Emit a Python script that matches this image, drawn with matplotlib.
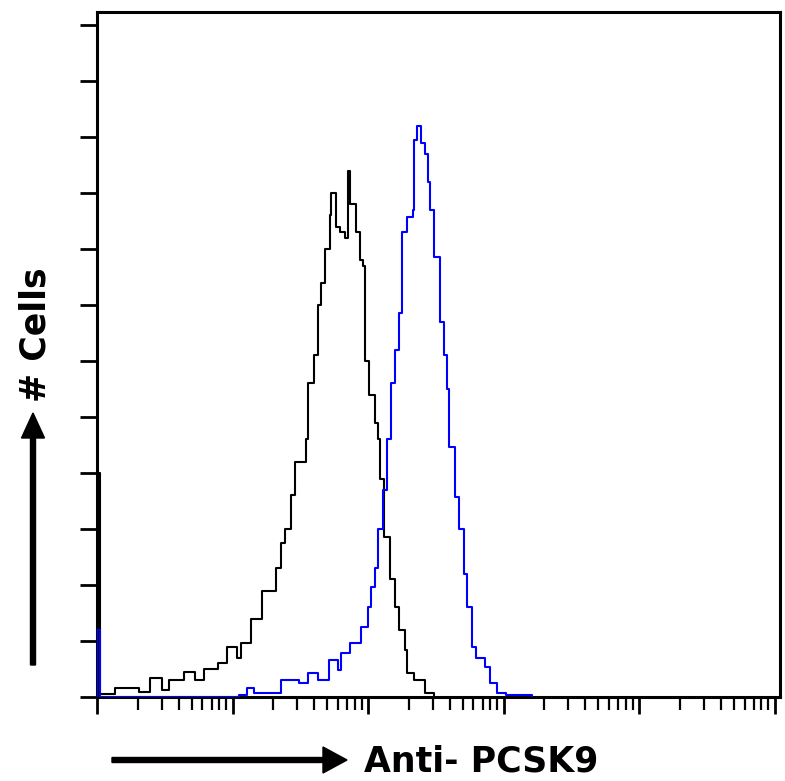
import matplotlib
matplotlib.use('Agg')
import matplotlib.pyplot as plt
from matplotlib.ticker import LogLocator, NullFormatter, MultipleLocator
import numpy as np

# log10 fluorescence (decades) and cell counts
iso_decade = [0.00, 0.00, 0.02, 0.13, 0.23, 0.31, 0.39, 0.48, 0.53, 0.62, 0.64,
              0.72, 0.79, 0.89, 0.96, 1.03, 1.06, 1.14, 1.22, 1.32, 1.36, 1.39,
              1.43, 1.46, 1.54, 1.56, 1.60, 1.63, 1.65, 1.68, 1.72, 1.73, 1.76,
              1.79, 1.83, 1.85, 1.87, 1.91, 1.94, 1.96, 1.98, 2.01, 2.05, 2.07,
              2.09, 2.12, 2.16, 2.20, 2.23, 2.27, 2.29, 2.34, 2.42, 2.49]
iso_count = [0, 40, 0.5, 1.6, 1.6, 0.9, 3.4, 1.2, 3.0, 3.0, 4.5,
             3.0, 5.0, 6.0, 9.0, 7.0, 9.6, 14, 19, 23, 27.5, 30,
             36, 42, 46, 56, 61, 70, 74, 80, 86, 90, 84,
             83, 82, 94, 88, 83, 78, 77, 60, 54, 49, 46,
             39, 28.5, 21, 16, 12, 8.4, 4.3, 3.0, 0.7, 0]

pcsk9_decade = [0.00, 0.00, 0.02, 1.05, 1.11, 1.16, 1.27, 1.36, 1.49, 1.56, 1.63,
                1.71, 1.78, 1.80, 1.87, 1.95, 2.00, 2.02, 2.05, 2.07, 2.11, 2.14,
                2.17, 2.20, 2.23, 2.25, 2.29, 2.33, 2.34, 2.36, 2.39, 2.42, 2.44,
                2.46, 2.49, 2.53, 2.56, 2.58, 2.60, 2.64, 2.67, 2.71, 2.73, 2.77,
                2.80, 2.86, 2.90, 2.95, 3.02, 3.15, 3.21]
pcsk9_count = [0, 12, 0, 0.3, 1.6, 0.7, 0.7, 3.0, 2.5, 4.3, 3.0,
               6.6, 4.8, 7.8, 9.6, 12.5, 16, 19.6, 23, 30, 37, 46,
               56, 62, 68.6, 83, 85.7, 87, 99.5, 102, 99, 97, 92,
               87, 78.6, 67, 61, 55, 44.6, 35.7, 30, 22, 16, 9.0,
               7.0, 5.4, 2.5, 0.7, 0.4, 0.4, 0]

fig = plt.figure(figsize=(7.85, 7.81), dpi=100)
ax = fig.add_axes([97 / 785, 1 - 697 / 781, 683 / 785, 685 / 781])

ax.plot(10 ** np.array(iso_decade), iso_count, color='black', lw=1.5,
        drawstyle='steps-post', zorder=3)
ax.plot(10 ** np.array(pcsk9_decade), pcsk9_count, color='#0000ff', lw=1.5,
        drawstyle='steps-post', zorder=4)

ax.set_xscale('log')
ax.set_xlim(1, 10 ** 5.04)
ax.set_ylim(0, 122.3)

ax.xaxis.set_major_locator(LogLocator(base=10, numticks=10))
ax.xaxis.set_minor_locator(LogLocator(base=10, subs=np.arange(2, 10), numticks=50))
ax.xaxis.set_major_formatter(NullFormatter())
ax.xaxis.set_minor_formatter(NullFormatter())
ax.yaxis.set_major_locator(MultipleLocator(10))
ax.yaxis.set_major_formatter(NullFormatter())

ax.tick_params(axis='x', which='major', direction='out', length=12, width=2)
ax.tick_params(axis='x', which='minor', direction='out', length=9, width=1.6)
ax.tick_params(axis='y', which='major', direction='out', length=12, width=2)

for s in ax.spines.values():
    s.set_linewidth(2.2)

# axis titles with arrows, as in the cytometry export
fig.text(364 / 785, 1 - 762 / 781, 'Anti- PCSK9', fontsize=25, fontweight='bold',
         ha='left', va='center')
fig.text(35 / 785, 1 - 335 / 781, '# Cells', fontsize=25, fontweight='bold',
         rotation=90, ha='center', va='center')

fig.patches.append(matplotlib.patches.FancyArrow(
    112 / 785, 1 - 760 / 781, 235 / 785, 0, width=5 / 781, head_width=26 / 781,
    head_length=24 / 785, length_includes_head=True, color='black',
    transform=fig.transFigure, figure=fig))
fig.patches.append(matplotlib.patches.FancyArrow(
    33 / 785, 1 - 665 / 781, 0, 252 / 781, width=5 / 785, head_width=23 / 785,
    head_length=25 / 781, length_includes_head=True, color='black',
    transform=fig.transFigure, figure=fig))

plt.savefig('out.png', dpi=100)
